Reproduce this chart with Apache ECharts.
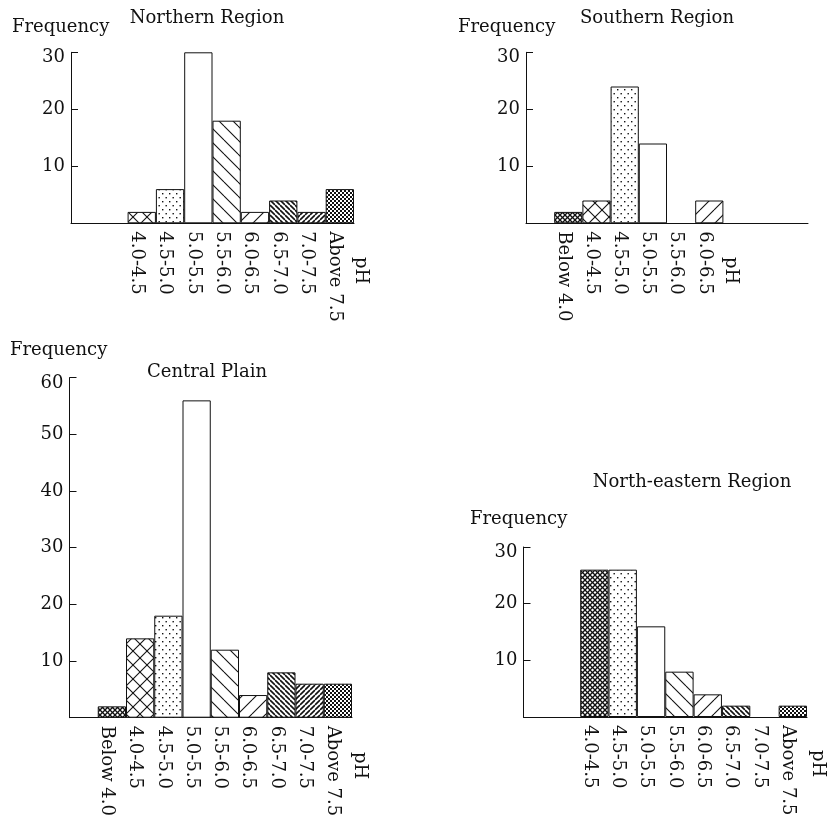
<!DOCTYPE html>
<html>
<head>
<meta charset="utf-8">
<script src="https://cdn.jsdelivr.net/npm/echarts@6/dist/echarts.min.js"></script>
<style>
html,body{margin:0;padding:0;background:#fff;}
#chart{width:827px;height:822px;}
</style>
</head>
<body>
<div id="chart"></div>
<script>
// ---- data ----
const phClasses = ['', 'Below 4.0', '4.0-4.5', '4.5-5.0', '5.0-5.5', '5.5-6.0', '6.0-6.5', '6.5-7.0', '7.0-7.5', 'Above 7.5'];
const northernLabels = ['', '', '4.0-4.5', '4.5-5.0', '5.0-5.5', '5.5-6.0', '6.0-6.5', '6.5-7.0', '7.0-7.5', 'Above 7.5'];
const northernValues = [null, null, 2, 6, 30, 18, 2, 4, 2, 6];
const southernLabels = ['', 'Below 4.0', '4.0-4.5', '4.5-5.0', '5.0-5.5', '5.5-6.0', '6.0-6.5', '', '', ''];
const southernValues = [null, 2, 4, 24, 14, null, 4, null, null, null];
const centralLabels = ['', 'Below 4.0', '4.0-4.5', '4.5-5.0', '5.0-5.5', '5.5-6.0', '6.0-6.5', '6.5-7.0', '7.0-7.5', 'Above 7.5'];
const centralValues = [null, 2, 14, 18, 56, 12, 4, 8, 6, 6];
const northEasternLabels = ['', '', '4.0-4.5', '4.5-5.0', '5.0-5.5', '5.5-6.0', '6.0-6.5', '6.5-7.0', '7.0-7.5', 'Above 7.5'];
const northEasternValues = [null, null, 26, 26, 16, 8, 4, 2, null, 2];
const smallAxisMax = 30;
const centralAxisMax = 60;

// ---- styles ----
const FONT = '"DejaVu Serif", "Liberation Serif", serif';
const FS = 18;
const INK = '#111';

function makeCanvas(w, h, draw) {
  const c = document.createElement('canvas');
  c.width = w; c.height = h;
  const ctx = c.getContext('2d');
  ctx.fillStyle = '#fff'; ctx.fillRect(0, 0, w, h);
  ctx.strokeStyle = INK; ctx.fillStyle = INK;
  draw(ctx, w, h);
  return { image: c, repeat: 'repeat' };
}
function back(ctx, s) { for (const k of [-s, 0, s]) { ctx.beginPath(); ctx.moveTo(0, k); ctx.lineTo(s, s + k); ctx.stroke(); } }
function fwd(ctx, s) { for (const k of [-s, 0, s]) { ctx.beginPath(); ctx.moveTo(0, s + k); ctx.lineTo(s, k); ctx.stroke(); } }

const patterns = {
  none: '#fff',
  dots: makeCanvas(7, 8, (ctx) => { ctx.fillRect(1, 1, 1.4, 1.4); ctx.fillRect(4.5, 5, 1.4, 1.4); }),
  sparseBack: makeCanvas(14, 14, (ctx) => { ctx.lineWidth = 1.1; back(ctx, 14); }),
  sparseFwd: makeCanvas(14, 14, (ctx) => { ctx.lineWidth = 1.1; fwd(ctx, 14); }),
  denseBack: makeCanvas(5, 5, (ctx) => { ctx.lineWidth = 1.6; back(ctx, 5); }),
  denseFwd: makeCanvas(5, 5, (ctx) => { ctx.lineWidth = 1.6; fwd(ctx, 5); }),
  sparseX: makeCanvas(14, 14, (ctx) => { ctx.lineWidth = 1.1; back(ctx, 14); fwd(ctx, 14); }),
  denseX: makeCanvas(5, 5, (ctx) => { ctx.lineWidth = 1.3; back(ctx, 5); fwd(ctx, 5); }),
  checker: makeCanvas(4, 4, (ctx) => { ctx.fillRect(0, 0, 4, 4); ctx.fillStyle = '#fff'; ctx.fillRect(0, 0, 2, 2); ctx.fillRect(2, 2, 2, 2); })
};
const slotPattern = ['none', 'denseX', 'sparseX', 'dots', 'none', 'sparseBack', 'sparseFwd', 'denseBack', 'denseFwd', 'checker'];

const panels = [
  { labels: northernLabels, values: northernValues, max: smallAxisMax, grid: { left: 71, top: 52.3, width: 283, height: 171 }, override: {} },
  { labels: southernLabels, values: southernValues, max: smallAxisMax, grid: { left: 526, top: 52.3, width: 282, height: 171 }, override: {} },
  { labels: centralLabels, values: centralValues, max: centralAxisMax, grid: { left: 69.5, top: 377.7, width: 282.5, height: 340 }, override: {} },
  { labels: northEasternLabels, values: northEasternValues, max: smallAxisMax, grid: { left: 523.5, top: 547, width: 283.5, height: 170 }, override: { 2: 'denseX' } }
];

const grids = [], xAxes = [], yAxes = [], series = [];
panels.forEach((p, i) => {
  grids.push(Object.assign({ containLabel: false }, p.grid));
  xAxes.push({
    type: 'category', gridIndex: i, data: p.labels, boundaryGap: true,
    axisLine: { lineStyle: { color: INK, width: 1 } },
    axisTick: { show: false },
    splitLine: { show: false },
    axisLabel: { interval: 0, rotate: -90, margin: 8, color: INK, fontFamily: FONT, fontSize: FS, align: 'left', verticalAlign: 'top', lineHeight: 10 }
  });
  yAxes.push({
    type: 'value', gridIndex: i, min: 0, max: p.max, interval: 10,
    axisLine: { show: true, lineStyle: { color: INK, width: 1 } },
    axisTick: { show: true, inside: true, length: 7, lineStyle: { color: INK } },
    splitLine: { show: false },
    axisLabel: {
      margin: 6, color: INK, fontFamily: FONT, fontSize: FS,
      formatter: (v) => v === 0 ? '' : (v === p.max ? '{t|' + v + '}' : String(v)),
      rich: { t: { fontFamily: FONT, fontSize: FS, color: INK, padding: [11, 0, 0, 0] } }
    }
  });
  series.push({
    type: 'bar', xAxisIndex: i, yAxisIndex: i,
    barCategoryGap: '0%', barGap: '0%',
    silent: true, animation: false,
    data: p.values.map((v, k) => v == null ? null : {
      value: v,
      itemStyle: { color: patterns[p.override[k] || slotPattern[k]], borderColor: INK, borderWidth: 1 }
    })
  });
});

function txt(text, x, y, align, rot) {
  return {
    type: 'text', x: x, y: y, rotation: rot || 0, silent: true,
    style: { text: text, fill: INK, font: FS + 'px ' + FONT, textAlign: align, textVerticalAlign: 'middle', verticalAlign: 'middle' }
  };
}
const R = -Math.PI / 2;
const graphics = [
  txt('Northern Region', 207, 18, 'center'),
  txt('Frequency', 12, 27, 'left'),
  txt('pH', 361, 257, 'left', R),
  txt('Southern Region', 657, 18, 'center'),
  txt('Frequency', 458, 27, 'left'),
  txt('pH', 731, 257, 'left', R),
  txt('Frequency', 10, 350, 'left'),
  txt('Central Plain', 207, 372, 'center'),
  txt('pH', 360, 752, 'left', R),
  txt('North-eastern Region', 692, 482, 'center'),
  txt('Frequency', 470, 519, 'left'),
  txt('pH', 818, 750, 'left', R)
];

const chart = echarts.init(document.getElementById('chart'), null, { renderer: 'canvas' });
chart.setOption({
  backgroundColor: '#fff',
  animation: false,
  grid: grids, xAxis: xAxes, yAxis: yAxes, series: series,
  graphic: graphics
});
</script>
</body>
</html>
